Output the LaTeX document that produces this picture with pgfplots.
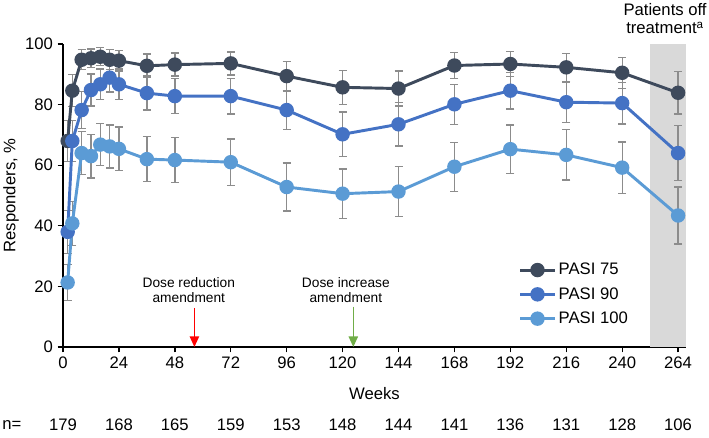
\documentclass[border=0pt]{standalone}
\usepackage{fontspec}
\setmainfont{Liberation Sans}
\usepackage{pgfplots}
\usepackage{pgfplotstable}
\pgfplotsset{compat=1.18}
\usetikzlibrary{arrows.meta}

\definecolor{cA}{HTML}{3E4A5C}
\definecolor{cB}{HTML}{4472C4}
\definecolor{cC}{HTML}{5B9BD5}
\definecolor{errgray}{HTML}{8C8C8C}
\definecolor{band}{HTML}{D9D9D9}
\definecolor{arrgreen}{HTML}{70AD47}

% week, responders (%), half-width of 95% CI
\pgfplotstableread{
x y e
2 68.0 6.8
4 84.6 5.3
8 94.8 3.3
12 95.3 3.1
16 95.8 3.0
20 94.8 3.3
24 94.5 3.4
36 92.8 3.9
48 93.2 3.8
72 93.6 3.8
96 89.4 4.9
120 85.7 5.6
144 85.3 5.8
168 92.9 4.2
192 93.4 4.2
216 92.3 4.6
240 90.5 5.1
264 83.9 7.0
}\pasiA

\pgfplotstableread{
x y e
2 38.0 7.1
4 68.0 6.8
8 78.2 6.1
12 84.8 5.3
16 86.7 5.1
20 88.9 4.7
24 86.7 5.1
36 83.8 5.6
48 82.8 5.8
72 82.8 5.9
96 78.2 6.5
120 70.2 7.4
144 73.5 7.2
168 80.1 6.6
192 84.6 6.1
216 80.8 6.7
240 80.5 6.9
264 64.0 9.1
}\pasiB

\pgfplotstableread{
x y e
2 21.3 6.0
4 40.8 7.2
8 64.0 7.1
12 63.0 7.2
16 66.8 7.0
20 66.2 7.1
24 65.4 7.2
36 62.0 7.4
48 61.7 7.4
72 61.0 7.6
96 52.8 7.9
120 50.6 8.1
144 51.3 8.2
168 59.5 8.1
192 65.3 8.0
216 63.4 8.3
240 59.2 8.5
264 43.4 9.4
}\pasiC

\pgfplotsset{
  errbars/.style={forget plot, draw=none, mark=none,
    error bars/.cd, y dir=both, y explicit,
    error bar style={draw=errgray, line width=1pt},
    error mark options={rotate=90, draw=errgray, mark size=3pt, line width=1pt}},
  series/.style={#1, line width=2.2pt, mark=*, mark size=4.3pt,
    mark options={solid, fill=#1, draw=#1}},
}

\begin{document}
\begin{tikzpicture}
\useasboundingbox (-47.25pt,-67.5pt) rectangle (484.5pt,260.25pt);
\begin{axis}[
  scale only axis,
  width=467.25pt, height=227.25pt,
  xmin=0, xmax=267.4, ymin=0, ymax=100,
  axis x line*=bottom, axis y line*=left,
  axis line style={line width=1.1pt},
  xtick={0,24,...,264}, ytick={0,20,...,100},
  tick align=outside, major tick length=4pt,
  tick style={black, line width=1pt},
  font=\fontsize{12.5}{14}\selectfont,
  /pgf/number format/assume math mode=true,
  clip=false,
  xlabel={Weeks},
  xlabel style={at={(axis description cs:0.5,-0.152)}, anchor=center},
  ylabel={Responders, \%},
  ylabel style={at={(axis description cs:-0.0835,0.5)}, anchor=center},
  legend style={at={(rel axis cs:0.725,0.295)}, anchor=north west,
    draw=none, fill=none, row sep=4pt,
    font=\fontsize{12.5}{14}\selectfont},
  legend cell align=left,
  legend image code/.code={\draw[mark repeat=2, mark phase=2, #1]
    plot coordinates {(0cm,0cm) (0.45cm,0cm) (0.9cm,0cm)};},
]
\fill[band] (axis cs:252,0) rectangle (axis cs:267.4,100);

\addplot[errbars] table[x=x, y=y, y error=e] {\pasiA};
\addplot[errbars] table[x=x, y=y, y error=e] {\pasiB};
\addplot[errbars] table[x=x, y=y, y error=e] {\pasiC};

\addplot[series=cA] table[x=x, y=y] {\pasiA};
\addlegendentry{PASI 75}
\addplot[series=cB] table[x=x, y=y] {\pasiB};
\addlegendentry{PASI 90}
\addplot[series=cC] table[x=x, y=y] {\pasiC};
\addlegendentry{PASI 100}

\node[align=center, font=\fontsize{10.3}{11.3}\selectfont] at (axis cs:54,18.8) {Dose reduction\\amendment};
\draw[-{Triangle[width=7pt,length=8pt]}, red, line width=1.1pt] (axis cs:56.4,12.9) -- (axis cs:56.4,0);
\node[align=center, font=\fontsize{10.3}{11.3}\selectfont] at (axis cs:121.4,18.8) {Dose increase\\amendment};
\draw[-{Triangle[width=7pt,length=8pt]}, arrgreen, line width=1.1pt] (axis cs:124.6,13.3) -- (axis cs:124.6,0);

\node[align=center, font=\fontsize{12.5}{13.5}\selectfont] at (axis cs:258.4,108.3) {Patients off\\treatment\textsuperscript{a}};

% number of patients at each visit
\node at (axis cs:-21.9,-25.7) {n=};
\node at (axis cs:0,-25.7) {179};
\node at (axis cs:24,-25.7) {168};
\node at (axis cs:48,-25.7) {165};
\node at (axis cs:72,-25.7) {159};
\node at (axis cs:96,-25.7) {153};
\node at (axis cs:120,-25.7) {148};
\node at (axis cs:144,-25.7) {144};
\node at (axis cs:168,-25.7) {141};
\node at (axis cs:192,-25.7) {136};
\node at (axis cs:216,-25.7) {131};
\node at (axis cs:240,-25.7) {128};
\node at (axis cs:264,-25.7) {106};
\end{axis}
\end{tikzpicture}
\end{document}
